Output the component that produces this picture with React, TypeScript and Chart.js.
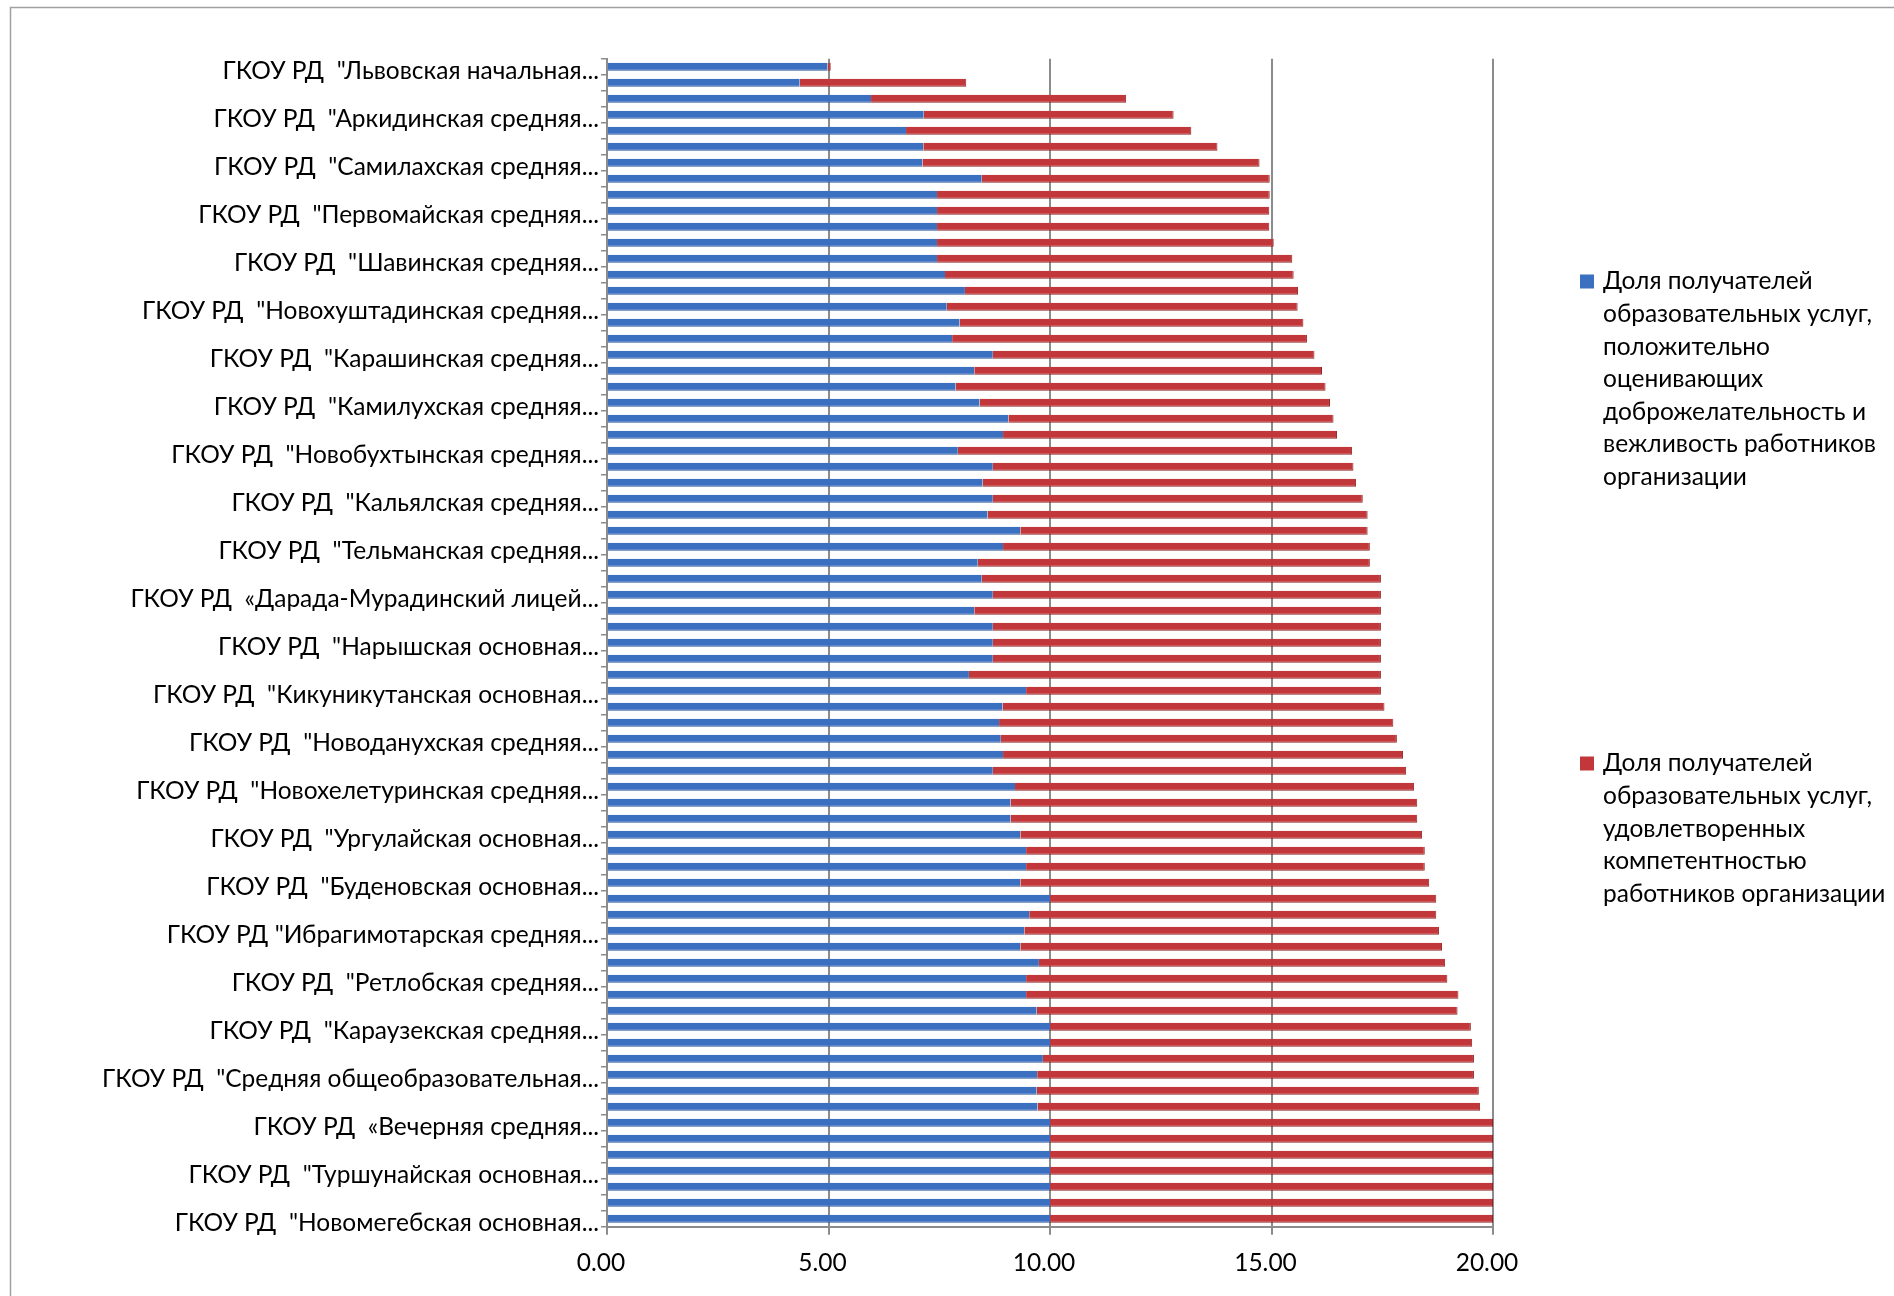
import React, { useEffect, useRef } from "react";
import { Chart, registerables } from "chart.js";

Chart.register(...registerables);

const FONT = "Lato, 'Noto Sans', sans-serif";
const FONT_SIZE = 24.5;

const categories: string[] = [
  'ГКОУ РД  "Львовская начальная...', "", "",
  'ГКОУ РД  "Аркидинская средняя...', "", "",
  'ГКОУ РД  "Самилахская средняя...', "", "",
  'ГКОУ РД  "Первомайская средняя...', "", "",
  'ГКОУ РД  "Шавинская средняя...', "", "",
  'ГКОУ РД  "Новохуштадинская средняя...', "", "",
  'ГКОУ РД  "Карашинская средняя...', "", "",
  'ГКОУ РД  "Камилухская средняя...', "", "",
  'ГКОУ РД  "Новобухтынская средняя...', "", "",
  'ГКОУ РД  "Кальялская средняя...', "", "",
  'ГКОУ РД  "Тельманская средняя...', "", "",
  "ГКОУ РД  «Дарада-Мурадинский лицей...", "", "",
  'ГКОУ РД  "Нарышская основная...', "", "",
  'ГКОУ РД  "Кикуникутанская основная...', "", "",
  'ГКОУ РД  "Новоданухская средняя...', "", "",
  'ГКОУ РД  "Новохелетуринская средняя...', "", "",
  'ГКОУ РД  "Ургулайская основная...', "", "",
  'ГКОУ РД  "Буденовская основная...', "", "",
  'ГКОУ РД "Ибрагимотарская средняя...', "", "",
  'ГКОУ РД  "Ретлобская средняя...', "", "",
  'ГКОУ РД  "Караузекская средняя...', "", "",
  'ГКОУ РД  "Средняя общеобразовательная...', "", "",
  "ГКОУ РД  «Вечерняя средняя...", "", "",
  'ГКОУ РД  "Туршунайская основная...', "", "",
  'ГКОУ РД  "Новомегебская основная...',
];

const politenessShare: number[] = [
  4.98, 4.35, 5.96, 7.15, 6.75, 7.14, 7.12, 8.46, 7.45, 7.45,
  7.45, 7.45, 7.45, 7.63, 8.08, 7.67, 7.96, 7.79, 8.71, 8.29,
  7.87, 8.41, 9.06, 8.94, 7.92, 8.71, 8.48, 8.71, 8.59, 9.33,
  8.94, 8.37, 8.46, 8.71, 8.29, 8.71, 8.71, 8.71, 8.17, 9.46,
  8.93, 8.85, 8.89, 8.94, 8.71, 9.21, 9.11, 9.11, 9.33, 9.46,
  9.46, 9.33, 10.0, 9.53, 9.42, 9.33, 9.75, 9.46, 9.46, 9.7,
  10.0, 10.0, 9.84, 9.71, 9.7, 9.72, 10.0, 10.0, 10.0, 10.0,
  10.0, 10.0, 10.0,
];

const competenceShare: number[] = [
  0.07, 3.76, 5.76, 5.64, 6.44, 6.64, 7.61, 6.5, 7.51, 7.5,
  7.5, 7.6, 8.02, 7.87, 7.52, 7.92, 7.76, 8.01, 7.26, 7.85,
  8.35, 7.91, 7.34, 7.54, 8.9, 8.14, 8.43, 8.35, 8.58, 7.84,
  8.28, 8.85, 9.01, 8.76, 9.18, 8.76, 8.76, 8.76, 9.3, 8.01,
  8.62, 8.9, 8.94, 9.03, 9.33, 9.01, 9.18, 9.18, 9.07, 9.0,
  9.0, 9.23, 8.72, 9.19, 9.36, 9.52, 9.17, 9.51, 9.76, 9.5,
  9.5, 9.53, 9.73, 9.86, 9.98, 9.99, 10.0, 10.0, 10.0, 10.0,
  10.0, 10.0, 10.0,
];

const seriesNames: string[] = [
  "Доля получателей образовательных услуг, положительно оценивающих доброжелательность и вежливость работников организации",
  "Доля получателей образовательных услуг, удовлетворенных компетентностью работников организации",
];

const legendLines1: string[] = [
  "Доля получателей",
  "образовательных услуг,",
  "положительно",
  "оценивающих",
  "доброжелательность и",
  "вежливость работников",
  "организации",
];

const legendLines2: string[] = [
  "Доля получателей",
  "образовательных услуг,",
  "удовлетворенных",
  "компетентностью",
  "работников организации",
];

const BLUE = "#3b6fbf";
const RED = "#c2383a";
const GRID = "#8c8c8c";

const frameAndLegend = {
  id: "frameAndLegend",
  beforeDraw(chart: any) {
    const ctx = chart.ctx;
    ctx.save();
    ctx.strokeStyle = "#a0a0a0";
    ctx.lineWidth = 1.5;
    ctx.beginPath();
    ctx.moveTo(10.5, chart.height);
    ctx.lineTo(10.5, 7.5);
    ctx.lineTo(chart.width, 7.5);
    ctx.stroke();
    ctx.restore();
  },
  afterDraw(chart: any, _args: any, opts: any) {
    const ctx = chart.ctx;
    ctx.save();
    ctx.font = `${opts.fontSize}px ${FONT}`;
    ctx.textBaseline = "middle";
    ctx.textAlign = "left";
    opts.items.forEach((item: any) => {
      ctx.fillStyle = item.color;
      ctx.fillRect(opts.boxX, item.y - 7, 14, 14);
      ctx.fillStyle = "#000";
      item.lines.forEach((ln: string, i: number) => {
        ctx.fillText(ln, opts.textX, item.y + i * opts.lineHeight);
      });
    });
    ctx.restore();
  },
};

export default function App() {
  const ref = useRef<HTMLCanvasElement | null>(null);

  useEffect(() => {
    if (!ref.current) return;
    const font = { family: FONT, size: FONT_SIZE };
    const chart = new Chart(ref.current, {
      type: "bar",
      data: {
        labels: categories,
        datasets: [
          {
            label: seriesNames[0],
            data: politenessShare,
            backgroundColor: BLUE,
            borderColor: "#2d5aa0",
            borderWidth: { bottom: 1, top: 0, left: 0, right: 0 } as any,
            barPercentage: 1,
            categoryPercentage: 0.5,
          },
          {
            label: seriesNames[1],
            data: competenceShare,
            backgroundColor: RED,
            borderColor: "#8f2426",
            borderWidth: { bottom: 1, top: 0, left: 0, right: 1 } as any,
            barPercentage: 1,
            categoryPercentage: 0.5,
          },
        ],
      },
      options: {
        indexAxis: "y",
        animation: false,
        responsive: false,
        maintainAspectRatio: false,
        layout: { padding: { top: 58.7, right: 401, bottom: 0, left: 0 } },
        plugins: {
          legend: { display: false },
          tooltip: { enabled: false },
          frameAndLegend: {
            fontSize: FONT_SIZE,
            boxX: 1580,
            textX: 1603,
            lineHeight: 32.6,
            items: [
              { color: BLUE, y: 281.5, lines: legendLines1 },
              { color: RED, y: 763.5, lines: legendLines2 },
            ],
          },
        } as any,
        scales: {
          x: {
            stacked: true,
            min: 0,
            max: 20,
            ticks: {
              stepSize: 5,
              callback: (v: any) => Number(v).toFixed(2),
              font,
              color: "#000",
              padding: 14,
              labelOffset: -6,
            },
            grid: { color: GRID, lineWidth: 2, tickLength: 8, tickColor: GRID },
            border: { color: GRID, width: 2 },
            afterFit: (s: any) => {
              s.height = 69.3;
            },
          } as any,
          y: {
            stacked: true,
            ticks: { autoSkip: false, font, color: "#000", padding: 2, labelOffset: 4 },
            grid: { drawOnChartArea: false, tickLength: 6, color: GRID, lineWidth: 1.5 },
            border: { color: GRID, width: 2 },
            afterFit: (s: any) => {
              s.width = 607;
            },
          } as any,
        },
      },
      plugins: [frameAndLegend],
    });
    return () => chart.destroy();
  }, []);

  return (
    <div style={{ position: "absolute", left: 0, top: 0, width: 1894, height: 1296, background: "#fff" }}>
      <canvas ref={ref} width={1894} height={1296} style={{ display: "block" }} />
    </div>
  );
}
